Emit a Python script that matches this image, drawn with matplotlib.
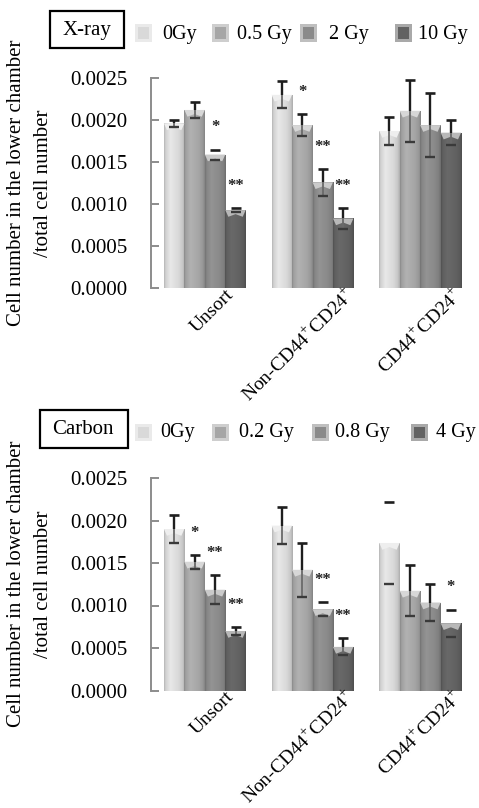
import numpy as np
import matplotlib
matplotlib.use("Agg")
import matplotlib.pyplot as plt
from matplotlib.patches import Rectangle, Polygon
from matplotlib.colors import to_rgb

plt.rcParams['font.family'] = ['Liberation Serif', 'DejaVu Serif']
plt.rcParams['mathtext.fontset'] = 'custom'
plt.rcParams['mathtext.rm'] = 'Liberation Serif'

# ---- data -------------------------------------------------------------
groups = ["Unsort", "Non-CD44$^{+}$CD24$^{+}$", "CD44$^{+}$CD24$^{+}$"]

xray_doses = ["0Gy", "0.5 Gy", "2 Gy", "10 Gy"]
xray_mean = [[0.00196, 0.00212, 0.00159, 0.00093],
             [0.00230, 0.00194, 0.00126, 0.00083],
             [0.00187, 0.00211, 0.00194, 0.00185]]
xray_err = [[0.00004, 0.00009, 0.00006, 0.00002],
            [0.00016, 0.00013, 0.00016, 0.00012],
            [0.00017, 0.00037, 0.00038, 0.00015]]
xray_sig = [["", "", "*", "**"],
            ["", "*", "**", "**"],
            ["", "", "", ""]]

carbon_doses = ["0Gy", "0.2 Gy", "0.8 Gy", "4 Gy"]
carbon_mean = [[0.00190, 0.001515, 0.001185, 0.00070],
               [0.00194, 0.00142, 0.000957, 0.000513],
               [0.001736, 0.001173, 0.001035, 0.000792]]
carbon_err = [[0.00017, 0.00008, 0.00017, 0.00005],
              [0.00022, 0.00032, 0.00008, 0.00010],
              [0.00048, 0.00030, 0.00022, 0.00016]]
carbon_sig = [["", "*", "**", "**"],
              ["", "", "**", "**"],
              ["", "", "", "*"]]

# ---- style ------------------------------------------------------------
dose_colors = ["#d9d9d9", "#a6a6a6", "#8a8a8a", "#626262"]
# error bars whose stem is not drawn (caps only)
xray_stem = [[True, True, False, False], [True] * 4, [True] * 4]
carbon_stem = [[True] * 4, [True, True, False, True], [False, True, True, False]]

W, H = 479, 808
BAR_W = 0.19
FS = 15
LEG_FS = 14.5
XL_FS = 14
AX_GRAY = "#8c8c8c"
ERR_DARK = "#1e1e1e"
ERR_INNER = "#6a6a6a"


def lighten(c, f):
    c = np.array(to_rgb(c))
    return tuple(c + (1 - c) * f)


def shade_bar(ax, patch, color):
    x0, y0 = patch.get_x(), patch.get_y()
    w, h = patch.get_width(), patch.get_height()
    base = np.array(to_rgb(color))
    t = np.linspace(0, 1, 48)
    prof = np.interp(t, [0, 0.07, 0.3, 0.7, 0.9, 1.0],
                     [0.84, 0.96, 1.07, 1.0, 0.92, 0.80])
    img = np.clip(base[None, :] * prof[:, None], 0, 1)[None, :, :]
    im = ax.imshow(img, extent=[x0, x0 + w, y0, y0 + h], aspect='auto',
                   interpolation='bilinear', zorder=2)
    im.set_clip_path(patch)
    d = 0.00008
    top = y0 + h
    bevel = Polygon([(x0, top), (x0 + w, top), (x0 + w * 0.85, top - d),
                     (x0 + w * 0.5, top - d * 0.6), (x0 + w * 0.15, top - d)],
                    closed=True, facecolor=lighten(color, 0.55),
                    edgecolor='none', zorder=3)
    ax.add_patch(bevel)


def draw_err(ax, x, m, e, stem):
    top, bot = m + e, m - e
    if stem:
        ax.vlines(x, m, top, color=ERR_DARK, lw=1.7, zorder=5, clip_on=False)
        ax.vlines(x, bot, m, color=ERR_INNER, lw=1.3, zorder=5)
    ax.plot([x], [top], marker='_', ms=7, mew=1.9, color=ERR_DARK,
            zorder=6, clip_on=False)
    ax.plot([x], [bot], marker='_', ms=7, mew=1.7, color="#3a3a3a", zorder=6)


def draw_panel(ax, means, errs, sigs, stems):
    n = len(dose_colors)
    xs = np.arange(len(groups))
    for j in range(n):
        vals = [means[g][j] for g in range(len(groups))]
        pos = xs + (j - (n - 1) / 2) * BAR_W
        bars = ax.bar(pos, vals, width=BAR_W, color=dose_colors[j],
                      edgecolor='none', zorder=1)
        for p in bars:
            shade_bar(ax, p, dose_colors[j])
        for g in range(len(groups)):
            draw_err(ax, pos[g], means[g][j], errs[g][j], stems[g][j])
            if sigs[g][j]:
                ax.annotate(sigs[g][j], (pos[g], means[g][j] + errs[g][j]),
                            xytext=(0, 16), textcoords='offset points',
                            ha='center', va='center', fontsize=12,
                            fontweight='bold', color="#222222", zorder=7)
    ax.set_xlim(-0.5, 2.5)
    ax.set_ylim(0, 0.0025)
    ax.set_yticks(np.arange(0, 0.00251, 0.0005))
    ax.yaxis.set_major_formatter(matplotlib.ticker.FormatStrFormatter('%.4f'))
    ax.tick_params(axis='y', direction='in', length=6, width=1.4,
                   color=AX_GRAY, labelsize=FS, pad=17)
    ax.set_xticks(xs)
    ax.set_xticklabels([])
    ax.tick_params(axis='x', length=0)
    for s in ['top', 'right', 'bottom']:
        ax.spines[s].set_visible(False)
    ax.spines['left'].set_color(AX_GRAY)
    ax.spines['left'].set_linewidth(1.4)
    label_dx = [0.24, 0.37, 0.37]
    for g, name in enumerate(groups):
        ax.text(xs[g] + label_dx[g], -0.00004, name, rotation=45,
                rotation_mode='anchor', ha='right', va='center',
                fontsize=XL_FS)


def fx(px):
    return px / W


def fy(py):
    return 1 - py / H


def draw_legend(fig, title, box, title_xy, labels, patch_x, label_x, yc):
    x0, y0, x1, y1 = box
    fig.patches.append(Rectangle((fx(x0), fy(y1)), fx(x1 - x0), (y1 - y0) / H,
                                 transform=fig.transFigure, fill=False,
                                 edgecolor='black', lw=1.6))
    fig.text(fx(title_xy[0]), fy(title_xy[1]), title, ha='center',
             va='center', fontsize=FS)
    s = 17
    for c, lab, px, lx in zip(dose_colors, labels, patch_x, label_x):
        fig.patches.append(Rectangle((fx(px), fy(yc + s / 2)), fx(s), s / H,
                                     transform=fig.transFigure,
                                     facecolor=lighten(c, 0.45),
                                     edgecolor='none'))
        fig.patches.append(Rectangle((fx(px + 3), fy(yc + s / 2 - 3)),
                                     fx(s - 6), (s - 6) / H,
                                     transform=fig.transFigure,
                                     facecolor=c, edgecolor='none'))
        fig.text(fx(lx), fy(yc + 1), lab, ha='left', va='center',
                 fontsize=LEG_FS)


fig = plt.figure(figsize=(W / 100, H / 100), dpi=100)

ax1 = fig.add_axes([fx(151), fy(288.3), fx(474 - 151), (288.3 - 78) / H])
draw_panel(ax1, xray_mean, xray_err, xray_sig, xray_stem)

ax2 = fig.add_axes([fx(151), fy(690.5), fx(474 - 151), (690.5 - 478) / H])
draw_panel(ax2, carbon_mean, carbon_err, carbon_sig, carbon_stem)

ylab = "Cell number in the lower chamber\n/total cell number"
fig.text(fx(30), fy(183), ylab, rotation=90, ha='center', va='center',
         fontsize=FS, linespacing=1.55)
fig.text(fx(30), fy(584), ylab, rotation=90, ha='center', va='center',
         fontsize=FS, linespacing=1.55)

draw_legend(fig, "X-ray", (50, 11, 124, 48), (87, 31), xray_doses,
            [135, 212, 300, 395], [162, 237, 329, 418], 33)
draw_legend(fig, "Carbon", (40, 410, 128, 448), (83, 430), carbon_doses,
            [135, 212, 312, 411], [160, 239, 335, 436], 432)

fig.savefig("out.png", dpi=100)
